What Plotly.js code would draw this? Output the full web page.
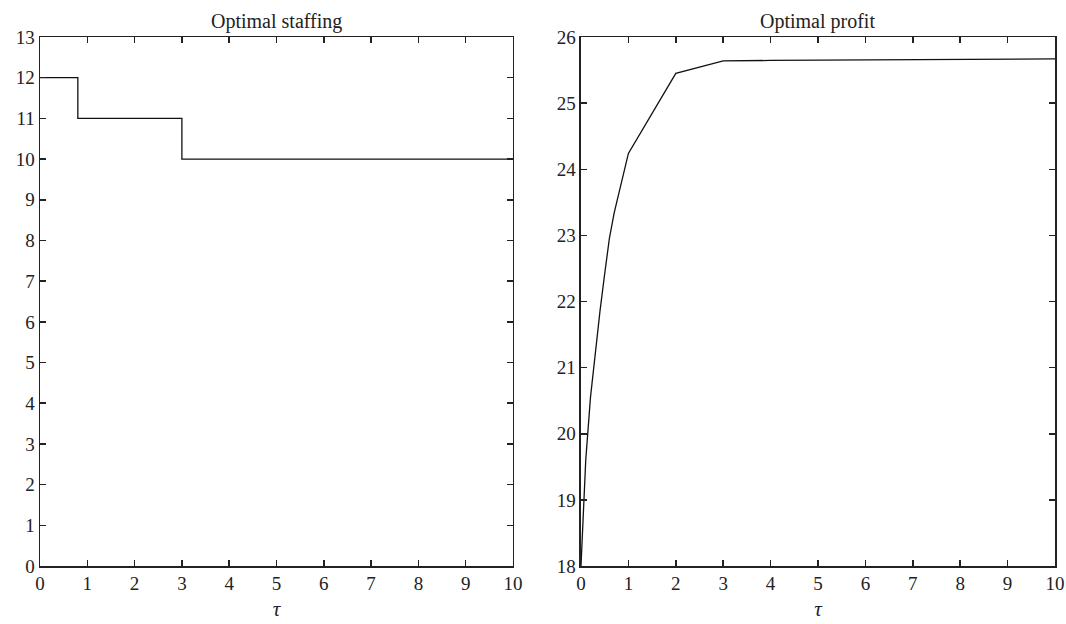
<!DOCTYPE html>
<html><head><meta charset="utf-8">
<script src="https://cdn.plot.ly/plotly-3.0.1.min.js"></script>
<style>html,body{margin:0;padding:0;background:#fff}#chart{width:1066px;height:624px}</style>
</head><body><div id="chart"></div>
<script>
// Left panel: optimal staffing (step function)
const staffTau = [0, 0.8, 3, 10];
const staffVal = [12, 11, 10, 10];
// Right panel: optimal profit
const profitTau = [0, 0.05, 0.1, 0.2, 0.3, 0.4, 0.5, 0.6, 0.7, 0.8, 0.9, 1, 2, 3, 4, 5, 6, 7, 8, 9, 10];
const profitVal = [18, 18.95, 19.6, 20.55, 21.25, 21.85, 22.42, 22.96, 23.34, 23.64, 23.94, 24.24, 25.45, 25.64, 25.645, 25.65, 25.652, 25.655, 25.66, 25.665, 25.67];
const titles = ["Optimal staffing", "Optimal profit"];
const xTicks = [0,1,2,3,4,5,6,7,8,9,10];
const yTicks1 = [0,1,2,3,4,5,6,7,8,9,10,11,12,13];
const yTicks2 = [18,19,20,21,22,23,24,25,26];

const FONT = "Liberation Serif, Times New Roman, serif";
const axBase = {
  showgrid:false, zeroline:false, showline:true, linecolor:'#222', linewidth:1.5,
  mirror:'ticks', ticks:'inside', ticklen:6, tickwidth:1.5, tickcolor:'#222',
  tickfont:{family:FONT, size:19, color:'#222'}
};
const traces = [
  {x:staffTau, y:staffVal, mode:'lines', line:{shape:'hv', color:'#111', width:1.3}, xaxis:'x', yaxis:'y', showlegend:false},
  {x:profitTau, y:profitVal, mode:'lines', line:{color:'#111', width:1.3}, xaxis:'x2', yaxis:'y2', showlegend:false}
];
const layout = {
  width:1066, height:624,
  margin:{l:40, r:11, t:37, b:58},
  paper_bgcolor:'#fff', plot_bgcolor:'#fff',
  font:{family:FONT, color:'#222'},
  xaxis:Object.assign({}, axBase, {domain:[0,0.466], range:[0,10], tickvals:xTicks,
    title:{text:'<i>τ</i>', font:{family:FONT, size:21}, standoff:8}}),
  yaxis:Object.assign({}, axBase, {range:[0,13], tickvals:yTicks1}),
  xaxis2:Object.assign({}, axBase, {domain:[0.533,1], range:[0,10], tickvals:xTicks, anchor:'y2',
    title:{text:'<i>τ</i>', font:{family:FONT, size:21}, standoff:8}}),
  yaxis2:Object.assign({}, axBase, {range:[18,26], tickvals:yTicks2, anchor:'x2'}),
  annotations:[
    {text:titles[0], xref:'x domain', yref:'paper', x:0.5, y:1, yshift:2, showarrow:false, xanchor:'center', yanchor:'bottom', font:{family:FONT, size:20, color:'#222'}},
    {text:titles[1], xref:'x2 domain', yref:'paper', x:0.5, y:1, yshift:2, showarrow:false, xanchor:'center', yanchor:'bottom', font:{family:FONT, size:20, color:'#222'}}
  ]
};
Plotly.newPlot('chart', traces, layout, {displayModeBar:false, staticPlot:true});
</script></body></html>
